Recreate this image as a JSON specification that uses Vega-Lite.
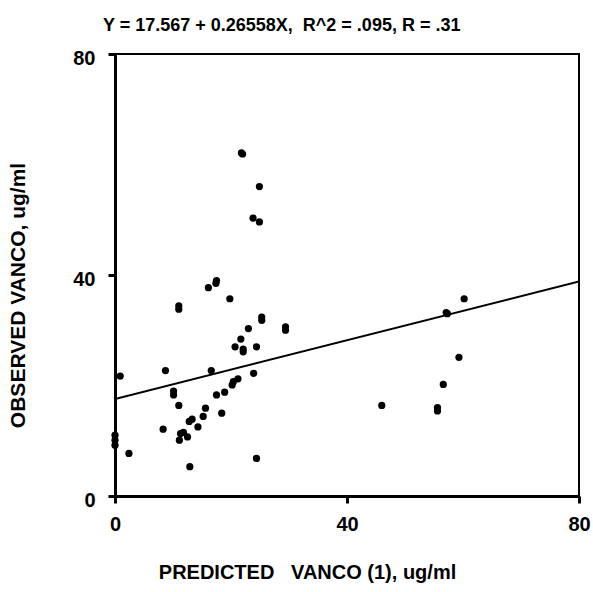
{
  "$schema": "https://vega.github.io/schema/vega-lite/v6.json",
  "autosize": {"type": "none"},
  "width": 464,
  "height": 442,
  "padding": {"left": 115, "top": 54, "right": 14, "bottom": 96},
  "background": "white",
  "config": {
    "view": {"stroke": "black", "strokeWidth": 2},
    "font": "Liberation Sans"
  },
  "title": {
    "text": "Y = 17.567 + 0.26558X,\u00a0 R^2 = .095, R = .31",
    "anchor": "start",
    "frame": "group",
    "dx": -12,
    "offset": 13,
    "font": "Liberation Sans",
    "fontSize": 18,
    "fontWeight": "bold",
    "color": "black"
  },
  "datasets": {
    "pts": [
      {"x": 21.8, "y": 62.1}, {"x": 22.0, "y": 61.9},
      {"x": 24.9, "y": 56.0},
      {"x": 23.8, "y": 50.3}, {"x": 24.9, "y": 49.6},
      {"x": 17.5, "y": 39.0}, {"x": 17.4, "y": 38.5},
      {"x": 16.1, "y": 37.7},
      {"x": 19.8, "y": 35.7},
      {"x": 11.0, "y": 34.4}, {"x": 11.0, "y": 33.8},
      {"x": 25.3, "y": 32.4}, {"x": 25.3, "y": 31.8},
      {"x": 29.4, "y": 30.6}, {"x": 29.4, "y": 30.0},
      {"x": 23.0, "y": 30.3},
      {"x": 21.7, "y": 28.4},
      {"x": 20.7, "y": 27.0},
      {"x": 22.1, "y": 26.6}, {"x": 22.1, "y": 26.1},
      {"x": 24.4, "y": 27.0},
      {"x": 8.7, "y": 22.7},
      {"x": 16.6, "y": 22.7},
      {"x": 0.9, "y": 21.7},
      {"x": 23.9, "y": 22.2},
      {"x": 21.2, "y": 21.2},
      {"x": 20.4, "y": 20.7}, {"x": 20.2, "y": 20.1},
      {"x": 10.1, "y": 19.0}, {"x": 10.1, "y": 18.3},
      {"x": 17.5, "y": 18.3},
      {"x": 18.9, "y": 18.8},
      {"x": 11.0, "y": 16.4},
      {"x": 15.6, "y": 15.9},
      {"x": 15.2, "y": 14.4},
      {"x": 18.4, "y": 15.0},
      {"x": 13.3, "y": 13.9},
      {"x": 12.8, "y": 13.5},
      {"x": 14.3, "y": 12.5},
      {"x": 8.3, "y": 12.1},
      {"x": 11.8, "y": 11.5},
      {"x": 11.3, "y": 11.3},
      {"x": 12.5, "y": 10.7},
      {"x": 11.1, "y": 10.1},
      {"x": 0.0, "y": 11.0},
      {"x": 0.0, "y": 10.1},
      {"x": 0.0, "y": 9.2},
      {"x": 2.4, "y": 7.7},
      {"x": 24.4, "y": 6.8},
      {"x": 12.9, "y": 5.3},
      {"x": 60.2, "y": 35.7},
      {"x": 57.1, "y": 33.2}, {"x": 57.3, "y": 33.0},
      {"x": 59.3, "y": 25.1},
      {"x": 56.6, "y": 20.2},
      {"x": 46.0, "y": 16.4},
      {"x": 55.6, "y": 16.0}, {"x": 55.6, "y": 15.4}
    ],
    "fit": [
      {"x": 0, "y": 17.567},
      {"x": 80, "y": 38.8134}
    ]
  },
  "encoding": {
    "x": {
      "field": "x", "type": "quantitative",
      "scale": {"domain": [0, 80], "nice": false, "zero": false},
      "axis": {
        "title": "PREDICTED\u00a0\u00a0\u00a0VANCO (1), ug/ml",
        "values": [0, 40, 80],
        "grid": false,
        "domainColor": "black", "domainWidth": 3,
        "tickColor": "black", "tickWidth": 3, "tickSize": 7,
        "labelFont": "Liberation Sans", "labelFontSize": 20, "labelFontWeight": "bold", "labelColor": "black",
        "labelPadding": 11, "labelFlush": false,
        "titleFont": "Liberation Sans", "titleFontSize": 20, "titleFontWeight": "bold", "titleColor": "black",
        "titlePadding": 28,
        "titleX": 192
      }
    },
    "y": {
      "field": "y", "type": "quantitative",
      "scale": {"domain": [0, 80], "nice": false, "zero": false},
      "axis": {
        "title": "OBSERVED VANCO, ug/ml",
        "values": [0, 40, 80],
        "grid": false,
        "domainColor": "black", "domainWidth": 3,
        "tickColor": "black", "tickWidth": 3, "tickSize": 7,
        "labelFont": "Liberation Sans", "labelFontSize": 20, "labelFontWeight": "bold", "labelColor": "black",
        "labelPadding": 13, "labelFlush": false, "labelOffset": 4,
        "titleFont": "Liberation Sans", "titleFontSize": 21, "titleFontWeight": "bold", "titleColor": "black",
        "titlePadding": 44,
        "titleY": 241
      }
    }
  },
  "layer": [
    {
      "data": {"name": "fit"},
      "mark": {"type": "line", "color": "black", "strokeWidth": 2, "clip": true}
    },
    {
      "data": {"name": "pts"},
      "mark": {"type": "circle", "color": "black", "opacity": 1, "size": 52}
    }
  ]
}
